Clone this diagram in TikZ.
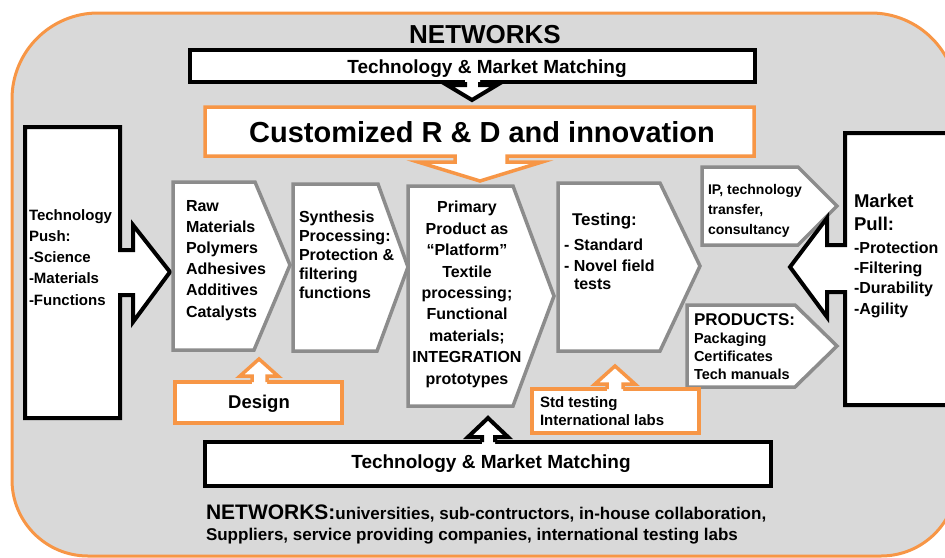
\documentclass[tikz,border=0pt]{standalone}
\usepackage{fontspec}
\setmainfont{Liberation Sans}
\newcommand\fsz[2]{\fontsize{#1pt}{#2pt}\selectfont\bfseries}
\definecolor{netorange}{HTML}{F79646}
\definecolor{netgray}{HTML}{8C8C8C}
\definecolor{netbg}{HTML}{D9D9D9}
\begin{document}
\begin{tikzpicture}[x=1pt,y=-1pt,
  netframe/.style={draw=netorange, line width=3pt, fill=netbg},
  blackshape/.style={draw=black, line width=4pt, fill=white},
  grayshape/.style={draw=netgray, line width=3.5pt, fill=white},
  orangeshape/.style={draw=netorange, line width=3.5pt, fill=white},
  blackedge/.style={draw=black, line width=4pt},
  orangeedge/.style={draw=netorange, line width=3.5pt},
  % multi-line labels are placed by the baseline of their last line
  lbl/.style={inner sep=0pt, outer sep=0pt, align=left, anchor=base west},
  clbl/.style={inner sep=0pt, outer sep=0pt, align=center, anchor=base},
]
\useasboundingbox (0,0) rectangle (945,557);
\clip (0,0) rectangle (945,557);

% outer network frame
\draw[netframe] (12,300) [rounded corners=86pt] -- (12,13) -- (957,13) -- (957,300)
  [rounded corners=76pt] -- (957,556) -- (12,556) -- cycle;

% top matching bar and its arrow
\draw[blackshape] (190,50) rectangle (755,82);
\fill[white] (465,80) -- (465,85) -- (447,85) -- (472,100) -- (497,85) -- (480,85) -- (480,80) -- cycle;
\draw[blackedge] (465,82) -- (465,85) -- (447,85) -- (472,100) -- (497,85) -- (480,85) -- (480,82);

% R&D callout
\draw[orangeshape] (205,107) -- (754,107) -- (754,156) -- (507,156) -- (507,162) -- (542,162)
  -- (480,181) -- (418,162) -- (455,162) -- (455,156) -- (205,156) -- cycle;

% technology push box with arrow
\draw[blackshape] (25,127) -- (120,127) -- (120,250) -- (133,250) -- (133,225) -- (170,272)
  -- (133,322) -- (133,295) -- (120,295) -- (120,418) -- (25,418) -- cycle;

% process chevrons
\draw[grayshape] (173,182) -- (255,182) -- (290,265) -- (254,350) -- (173,350) -- cycle;
\draw[grayshape] (293,184) -- (378,184) -- (408,267) -- (377,351) -- (293,351) -- cycle;
\draw[grayshape] (408,186) -- (513,186) -- (554,296) -- (513,406) -- (408,406) -- cycle;
\draw[grayshape] (558,183) -- (660,183) -- (700,266) -- (660,351) -- (558,351) -- cycle;
\draw[grayshape] (702,167) -- (798,167) -- (837,206) -- (798,245) -- (702,245) -- cycle;
\draw[grayshape] (687,305) -- (795,305) -- (837,346) -- (795,387) -- (687,387) -- cycle;

% market pull box with arrow
\draw[blackshape] (947,133) -- (845,133) -- (845,245) -- (827,245) -- (827,218) -- (790,267)
  -- (827,317) -- (827,292) -- (845,292) -- (845,405) -- (947,405) -- cycle;

% design box and arrow
\draw[orangeshape] (175,382) rectangle (342,423);
\fill[white] (252,384) -- (252,376) -- (240,376) -- (259,359) -- (278,376) -- (267,376) -- (267,384) -- cycle;
\draw[orangeedge] (252,382) -- (252,376) -- (240,376) -- (259,359) -- (278,376) -- (267,376) -- (267,382);

% standard testing box and arrow
\draw[orangeshape] (532,389) rectangle (699,433);
\fill[white] (607,391) -- (607,384) -- (595,384) -- (615,366) -- (635,384) -- (623,384) -- (623,391) -- cycle;
\draw[orangeedge] (607,389) -- (607,384) -- (595,384) -- (615,366) -- (635,384) -- (623,384) -- (623,389);

% bottom matching bar and its arrow
\draw[blackshape] (205,442) rectangle (771,486);
\fill[white] (482,444) -- (482,437) -- (468,437) -- (488,418) -- (508,437) -- (495,437) -- (495,444) -- cycle;
\draw[blackedge] (482,442) -- (482,437) -- (468,437) -- (488,418) -- (508,437) -- (495,437) -- (495,442);

% texts
\node[clbl, font={\fsz{26}{30}}] (title) at (485,43) {NETWORKS};
\node[clbl, font={\fsz{19}{22}}] (tmtop) at (487,73) {Technology \& Market Matching};
\node[clbl, font={\fsz{29}{32}}] (rnd) at (482,142) {Customized R \& D and innovation};
\node[lbl, font={\fsz{15}{21.2}}] (push) at (29,305) {Technology\\Push:\\-Science\\-Materials\\-Functions};
\node[lbl, font={\fsz{16}{21.2}}] (raw) at (186,317) {Raw\\Materials\\Polymers\\Adhesives\\Additives\\Catalysts};
\node[lbl, font={\fsz{16}{19}}] (synth) at (299,298) {Synthesis\\Processing:\\Protection \&\\filtering\\functions};
\node[clbl, font={\fsz{16}{21.4}}] (primary) at (467,384) {Primary\\Product as\\“Platform”\\Textile\\processing;\\Functional\\materials;\\INTEGRATION\\prototypes};
\node[lbl, font={\fsz{16}{21}}] (testing) at (564,289) {\hspace*{8pt}{\fontsize{17pt}{21pt}\selectfont Testing:}\\[4pt]- Standard\\- Novel field\\[-3pt]\hspace*{10pt}tests};
\node[lbl, font={\fsz{14}{20}}] (ip) at (708,234) {IP, technology\\transfer,\\consultancy};
\node[lbl, font={\fsz{14.5}{17.7}}] (products) at (694,379) {{\fontsize{17pt}{20pt}\selectfont PRODUCTS:}\\[0.3pt]Packaging\\Certificates\\Tech manuals};
\node[lbl, font={\fsz{16}{20.3}}] (pull) at (854,314) {{\fontsize{18.5pt}{23pt}\selectfont Market}\\[2.7pt]{\fontsize{18.5pt}{23pt}\selectfont Pull:}\\[2.7pt]-Protection\\-Filtering\\-Durability\\-Agility};
\node[clbl, font={\fsz{18.5}{22}}] (design) at (259,408) {Design};
\node[lbl, font={\fsz{15}{18}}] (std) at (540,425) {Std testing\\International labs};
\node[clbl, font={\fsz{19}{22}}] (tmbottom) at (491,468) {Technology \& Market Matching};
\node[lbl, font={\fsz{17}{21}}] (netlist) at (206,540) {{\fontsize{21pt}{21pt}\selectfont NETWORKS:}universities, sub-contructors, in-house collaboration,\\Suppliers, service providing companies, international testing labs};
\end{tikzpicture}
\end{document}
